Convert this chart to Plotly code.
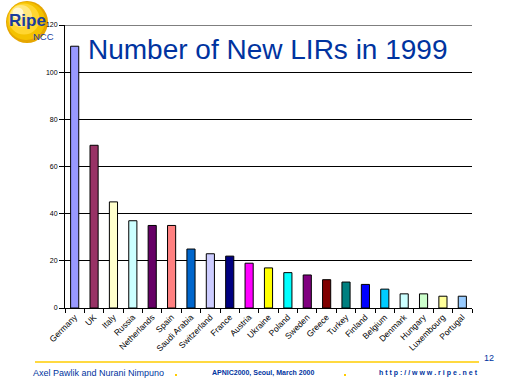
import plotly.graph_objects as go

countries = ["Germany", "UK", "Italy", "Russia", "Netherlands", "Spain", "Saudi Arabia",
             "Switzerland", "France", "Austria", "Ukraine", "Poland", "Sweden", "Greece",
             "Turkey", "Finland", "Belgium", "Denmark", "Hungary", "Luxembourg", "Portugal"]
new_lirs = [111, 69, 45, 37, 35, 35, 25, 23, 22, 19, 17, 15, 14, 12, 11, 10, 8, 6, 6, 5, 5]
bar_colors = ["#9999FF", "#993366", "#FFFFCC", "#CCFFFF", "#660066", "#FF8080", "#0066CC",
              "#CCCCFF", "#000080", "#FF00FF", "#FFFF00", "#00FFFF", "#800080", "#800000",
              "#008080", "#0000FF", "#00CCFF", "#CCFFFF", "#CCFFCC", "#FFFF99", "#99CCFF"]
y_ticks = [0, 20, 40, 60, 80, 100, 120]

W, H = 512, 384
L, R, T, B = 65, 472, 25, 308

def px(x):
    return (x - L) / (R - L)

def py(y):
    return (B - y) / (B - T)

fig = go.Figure(go.Bar(
    x=countries, y=new_lirs,
    marker=dict(color=bar_colors, line=dict(color="black", width=1)),
    width=0.42,
))

blue = "#0033A0"
font = "Liberation Sans, Arial, sans-serif"

shapes = []
# logo sphere (layered circles to fake gradient)
for (cx, cy, r, col) in [(27, 22, 21, "#E6A600"), (26, 21, 19, "#F4C200"),
                         (24, 19, 15.5, "#FFD630"), (21, 16, 11, "#FFE77E"), (18, 13, 5.5, "#FFF6D0")]:
    shapes.append(dict(type="circle", xref="paper", yref="paper",
                       x0=px(cx - r), x1=px(cx + r), y0=py(cy + r), y1=py(cy - r),
                       fillcolor=col, line=dict(width=0), layer="below"))
# top frame line at 120
shapes.append(dict(type="line", xref="paper", yref="y", x0=0, x1=1, y0=y_ticks[-1], y1=y_ticks[-1],
                   line=dict(color="black", width=1)))
# footer line
shapes.append(dict(type="line", xref="paper", yref="paper",
                   x0=px(35), x1=px(479), y0=py(362), y1=py(362),
                   line=dict(color="#FFCC00", width=1.5)))
for dx in (176, 345):
    shapes.append(dict(type="rect", xref="paper", yref="paper",
                       x0=px(dx - 1), x1=px(dx + 1), y0=py(376), y1=py(374),
                       fillcolor="#FFCC00", line=dict(width=0)))

annotations = [
    dict(text="Number of New LIRs in 1999", x=px(268), y=py(49), xref="paper", yref="paper",
         showarrow=False, font=dict(family=font, size=28, color=blue), xanchor="center", yanchor="middle"),
    dict(text="<b>Ripe</b>", x=px(7), y=py(20), xref="paper", yref="paper",
         showarrow=False, font=dict(family=font, size=17, color="#1A3C9C"), xanchor="left", yanchor="middle"),
    dict(text="NCC", x=px(31), y=py(36.5), xref="paper", yref="paper",
         showarrow=False, font=dict(family=font, size=9.5, color="#1A3C9C"), xanchor="left", yanchor="middle"),
    dict(text="12", x=px(496), y=py(358), xref="paper", yref="paper",
         showarrow=False, font=dict(family=font, size=9, color=blue), xanchor="right", yanchor="middle"),
    dict(text="Axel Pawlik and Nurani Nimpuno", x=px(31), y=py(373), xref="paper", yref="paper",
         showarrow=False, font=dict(family=font, size=9, color=blue), xanchor="left", yanchor="middle"),
    dict(text="<b>APNIC2000, Seoul, March 2000</b>", x=px(263), y=py(373), xref="paper", yref="paper",
         showarrow=False, font=dict(family=font, size=7, color=blue), xanchor="center", yanchor="middle"),
    dict(text="<b>h t t p : / / w w w . r i p e . n e t</b>", x=px(480), y=py(373), xref="paper", yref="paper",
         showarrow=False, font=dict(family=font, size=7, color=blue), xanchor="right", yanchor="middle"),
]

fig.update_layout(
    width=W, height=H,
    margin=dict(l=L, r=W - R, t=T, b=H - B, autoexpand=False),
    paper_bgcolor="white", plot_bgcolor="white",
    showlegend=False,
    bargap=0.58,
    shapes=shapes,
    annotations=annotations,
    xaxis=dict(type="category", tickangle=-45, tickfont=dict(family=font, size=8.5, color="black"),
               showline=True, linecolor="black", linewidth=1, ticks="outside", ticklen=4,
               tickcolor="black", tickson="boundaries", showgrid=False, range=[-0.5, 20.5]),
    yaxis=dict(range=[0, 120], tickvals=y_ticks, tickfont=dict(family=font, size=7, color="black"),
               showline=True, linecolor="black", linewidth=1, ticks="outside", ticklen=5,
               tickcolor="black", showgrid=True, gridcolor="black", gridwidth=1, zeroline=False),
)

fig.write_html("out.html", config={"displayModeBar": False})

with open("out.html", "r", encoding="utf-8") as f:
    html = f.read()
html = html.replace("<head>", "<head><style>html,body{margin:0;padding:0;overflow:hidden;}</style>", 1)
with open("out.html", "w", encoding="utf-8") as f:
    f.write(html)
